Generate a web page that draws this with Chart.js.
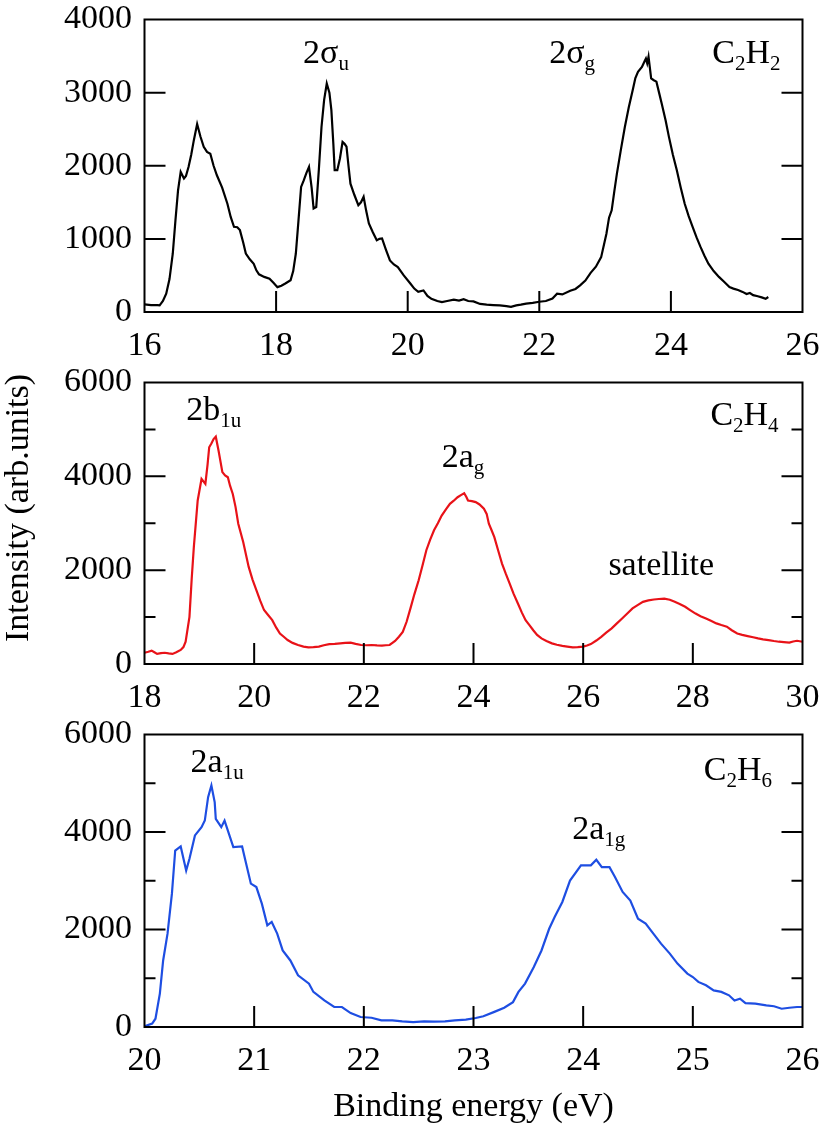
<!DOCTYPE html>
<html lang="en">
<head>
<meta charset="UTF-8">
<title>Photoelectron spectra C2H2 / C2H4 / C2H6</title>
<script src="https://cdn.jsdelivr.net/npm/chart.js"></script>
<style>
  html, body { margin: 0; padding: 0; background: #fff; overflow: hidden; }
  #wrap { position: relative; width: 819px; height: 1127px; overflow: hidden; }
  #wrap canvas { position: absolute; left: 0; }
</style>
</head>
<body>
<div id="wrap">
  <canvas id="c2h2" width="840" height="400" style="top:-20px"></canvas>
  <canvas id="c2h4" width="840" height="400" style="top:340px"></canvas>
  <canvas id="c2h6" width="840" height="437" style="top:690px"></canvas>
</div>
<script>
// C2H2 (top panel)
const c2h2Energy = [16.0,16.1,16.2,16.23,16.28,16.33,16.38,16.43,16.47,16.51,16.55,16.6,16.63,16.67,16.71,16.75,16.8,16.85,16.9,16.95,17.0,17.05,17.1,17.18,17.26,17.31,17.36,17.41,17.45,17.5,17.54,17.6,17.66,17.7,17.74,17.82,17.9,17.96,18.02,18.08,18.14,18.22,18.26,18.3,18.34,18.38,18.42,18.46,18.5,18.54,18.57,18.61,18.65,18.69,18.73,18.77,18.81,18.84,18.87,18.89,18.93,18.97,19.01,19.04,19.07,19.1,19.13,19.19,19.25,19.29,19.33,19.37,19.41,19.47,19.53,19.57,19.61,19.67,19.73,19.79,19.85,19.94,20.04,20.1,20.16,20.24,20.3,20.36,20.45,20.52,20.6,20.7,20.78,20.85,20.92,21.0,21.1,21.2,21.3,21.4,21.5,21.57,21.65,21.72,21.8,21.9,22.0,22.1,22.2,22.27,22.35,22.47,22.55,22.62,22.7,22.78,22.86,22.94,23.02,23.06,23.1,23.14,23.18,23.24,23.3,23.36,23.42,23.46,23.5,23.56,23.6,23.62,23.64,23.66,23.7,23.74,23.78,23.82,23.86,23.92,23.97,24.03,24.09,24.15,24.21,24.27,24.33,24.39,24.45,24.51,24.57,24.65,24.73,24.8,24.89,24.95,25.02,25.09,25.15,25.2,25.25,25.32,25.38,25.44,25.48];
const c2h2Intensity = [105,95,95,91,150,250,450,800,1250,1665,1915,1825,1860,1985,2150,2350,2570,2400,2260,2190,2165,2000,1870,1700,1480,1300,1165,1160,1120,950,800,720,660,570,515,480,455,400,340,360,390,435,560,800,1250,1710,1800,1900,1985,1700,1415,1435,1950,2530,2900,3125,3000,2760,2300,1940,1940,2100,2325,2300,2260,2000,1755,1600,1460,1500,1575,1380,1210,1090,980,1000,1005,850,705,650,615,500,390,320,275,295,220,180,150,135,150,170,155,175,150,145,110,100,95,90,80,70,90,100,115,125,140,150,185,250,240,290,315,365,430,535,620,750,1070,1290,1390,1650,1895,2220,2530,2800,3035,3200,3285,3350,3430,3465,3400,3490,3195,3170,3150,3000,2850,2620,2395,2150,1940,1700,1480,1310,1165,1020,890,770,660,560,480,420,340,320,300,275,245,260,230,215,200,180,205];

// C2H4 (middle panel)
const c2h4Energy = [18.0,18.07,18.13,18.18,18.23,18.3,18.37,18.44,18.51,18.58,18.66,18.71,18.75,18.82,18.86,18.9,18.97,19.04,19.11,19.15,19.18,19.22,19.26,19.3,19.35,19.42,19.47,19.52,19.56,19.61,19.66,19.71,19.8,19.9,19.97,20.04,20.11,20.18,20.25,20.33,20.4,20.47,20.54,20.61,20.7,20.8,20.9,20.99,21.08,21.18,21.27,21.37,21.47,21.57,21.66,21.76,21.85,21.95,22.05,22.14,22.24,22.33,22.4,22.47,22.57,22.64,22.71,22.78,22.85,22.92,23.0,23.07,23.14,23.21,23.28,23.35,23.42,23.5,23.57,23.64,23.71,23.77,23.83,23.87,23.9,23.97,24.04,24.11,24.19,24.24,24.28,24.33,24.38,24.45,24.52,24.59,24.66,24.73,24.81,24.88,24.95,25.02,25.09,25.16,25.24,25.33,25.43,25.52,25.62,25.71,25.81,25.9,26.0,26.07,26.14,26.24,26.33,26.42,26.52,26.61,26.71,26.8,26.9,27.0,27.09,27.19,27.29,27.38,27.48,27.58,27.67,27.76,27.86,27.95,28.05,28.14,28.24,28.33,28.43,28.52,28.62,28.71,28.81,28.9,29.0,29.1,29.19,29.28,29.38,29.48,29.57,29.66,29.76,29.83,29.9,30.0];
const c2h4Intensity = [240,260,285,250,215,230,240,225,215,250,300,360,475,1005,1800,2495,3485,3945,3840,4250,4620,4700,4795,4845,4550,4090,4020,3980,3800,3625,3350,2990,2600,2070,1800,1575,1350,1150,1050,935,780,650,580,510,450,405,370,355,360,370,400,425,430,440,450,455,430,405,400,405,395,390,400,405,490,580,685,900,1185,1480,1785,2100,2425,2650,2850,3000,3165,3300,3415,3480,3555,3600,3640,3560,3485,3470,3450,3400,3310,3200,2990,2850,2705,2420,2140,1920,1715,1500,1290,1100,935,830,720,620,545,490,440,410,385,370,355,360,370,395,425,500,580,670,760,860,970,1070,1185,1260,1325,1355,1375,1385,1395,1370,1325,1280,1220,1150,1075,1020,970,920,865,830,795,720,650,620,595,570,545,525,510,490,475,465,455,480,495,475];

// C2H6 (bottom panel)
const c2h6Energy = [20.0,20.07,20.1,20.14,20.17,20.21,20.25,20.28,20.33,20.38,20.41,20.46,20.52,20.55,20.58,20.61,20.64,20.65,20.7,20.73,20.81,20.89,20.92,20.97,21.02,21.07,21.12,21.16,21.21,21.26,21.33,21.4,21.5,21.54,21.64,21.73,21.8,21.88,21.97,22.07,22.16,22.26,22.35,22.45,22.55,22.64,22.74,22.83,22.93,23.02,23.09,23.19,23.28,23.36,23.41,23.47,23.55,23.62,23.69,23.74,23.81,23.88,23.98,24.07,24.12,24.17,24.24,24.29,24.36,24.43,24.5,24.57,24.64,24.71,24.79,24.86,24.95,25.0,25.05,25.12,25.19,25.26,25.33,25.38,25.43,25.48,25.57,25.67,25.74,25.81,25.88,25.95,26.0];
const c2h6Intensity = [15,70,170,685,1365,1915,2735,3620,3705,3210,3450,3930,4100,4235,4715,4955,4615,4270,4100,4235,3690,3705,3415,2940,2870,2530,2085,2155,1915,1570,1365,1060,890,720,545,410,410,285,205,190,135,135,115,100,115,110,115,135,150,185,220,310,395,510,720,890,1230,1570,2015,2255,2565,3005,3315,3315,3430,3280,3280,3075,2770,2595,2220,2120,1915,1710,1505,1300,1095,1025,925,855,750,720,650,545,580,490,480,445,425,375,395,410,410];

// labels inside the panels: [energy, intensity] anchor + text pieces (true = subscript)
const c2h2Notes = [
  { x: 18.41, y: 3400, parts: [['2σ', false], ['u', true]] },
  { x: 22.15, y: 3400, parts: [['2σ', false], ['g', true]] },
  { x: 24.63, y: 3400, parts: [['C', false], ['2', true], ['H', false], ['2', true]] }
];
const c2h4Notes = [
  { x: 18.76, y: 5200, parts: [['2b', false], ['1u', true]] },
  { x: 23.42, y: 4200, parts: [['2a', false], ['g', true]] },
  { x: 26.46, y: 1900, parts: [['satellite', false]] },
  { x: 28.32, y: 5090, parts: [['C', false], ['2', true], ['H', false], ['4', true]] }
];
const c2h6Notes = [
  { x: 20.42, y: 5230, parts: [['2a', false], ['1u', true]] },
  { x: 23.90, y: 3850, parts: [['2a', false], ['1g', true]] },
  { x: 25.10, y: 5060, parts: [['C', false], ['2', true], ['H', false], ['6', true]] }
];

const SERIF = "'Liberation Serif', 'Times New Roman', serif";
const FONT_MAIN = '34px ' + SERIF;
const FONT_SUB = '21px ' + SERIF;

// frame, inward ticks, tick labels (from the scales' own ticks) and text labels
function decor(opts) {
  return {
    id: 'decor',
    afterDatasetsDraw(chart) {
      const { ctx, chartArea: a, scales } = chart;
      const x = scales.x, y = scales.y;
      ctx.save();
      ctx.strokeStyle = '#000';
      ctx.lineWidth = 2;
      ctx.strokeRect(a.left, a.top, a.right - a.left, a.bottom - a.top);

      ctx.beginPath();
      const majors = y.ticks.map(t => t.value);
      majors.forEach(v => {
        if (v <= y.min || v >= y.max) return;
        const py = y.getPixelForValue(v);
        ctx.moveTo(a.left, py); ctx.lineTo(a.left + 21, py);
        ctx.moveTo(a.right, py); ctx.lineTo(a.right - 21, py);
      });
      if (opts.minorY) {
        for (let v = y.min + opts.minorY; v < y.max; v += opts.minorY) {
          if (majors.includes(v)) continue;
          const py = y.getPixelForValue(v);
          ctx.moveTo(a.left, py); ctx.lineTo(a.left + 11, py);
          ctx.moveTo(a.right, py); ctx.lineTo(a.right - 11, py);
        }
      }
      x.ticks.forEach(t => {
        if (t.value <= x.min || t.value >= x.max) return;
        const px = x.getPixelForValue(t.value);
        ctx.moveTo(px, a.bottom); ctx.lineTo(px, a.bottom - 21);
      });
      ctx.stroke();

      ctx.fillStyle = '#000';
      ctx.font = FONT_MAIN;
      ctx.textBaseline = 'middle';
      ctx.textAlign = 'right';
      y.ticks.forEach(t => ctx.fillText(String(t.value), a.left - 12.5, y.getPixelForValue(t.value)));
      ctx.textAlign = 'center';
      x.ticks.forEach(t => ctx.fillText(String(t.value), x.getPixelForValue(t.value), a.bottom + 34));
      if (opts.xTitle) ctx.fillText(opts.xTitle, (a.left + a.right) / 2, a.bottom + 80.5);

      ctx.textAlign = 'left';
      ctx.textBaseline = 'alphabetic';
      opts.notes.forEach(n => {
        let px = x.getPixelForValue(n.x);
        const py = y.getPixelForValue(n.y);
        n.parts.forEach(([s, sub]) => {
          ctx.font = sub ? FONT_SUB : FONT_MAIN;
          ctx.fillText(s, px, py + (sub ? 7 : 0));
          px += ctx.measureText(s).width;
        });
      });

      if (opts.yTitle) {
        ctx.translate(19.5, opts.yTitle.center);
        ctx.rotate(-Math.PI / 2);
        ctx.textAlign = 'center';
        ctx.textBaseline = 'middle';
        ctx.font = FONT_MAIN;
        ctx.fillText(opts.yTitle.text, 0, 0);
      }
      ctx.restore();
    }
  };
}

function makeChart(id, energy, intensity, color, p) {
  return new Chart(document.getElementById(id), {
    type: 'line',
    data: {
      datasets: [{
        data: energy.map((e, i) => ({ x: e, y: intensity[i] })),
        borderColor: color,
        borderWidth: 2.2,
        pointRadius: 0,
        tension: 0,
        fill: false
      }]
    },
    options: {
      responsive: false,
      animation: false,
      layout: { padding: { left: 0, right: 37.5, top: p.padTop, bottom: 0 } },
      plugins: { legend: { display: false }, tooltip: { enabled: false } },
      scales: {
        x: {
          type: 'linear',
          min: p.xMin, max: p.xMax,
          grid: { display: false, drawTicks: false },
          border: { display: false },
          ticks: { stepSize: p.xStep, autoSkip: false, display: false },
          afterFit: s => { s.height = p.xHeight; }
        },
        y: {
          min: 0, max: p.yMax,
          grid: { display: false, drawTicks: false },
          border: { display: false },
          ticks: { stepSize: p.yStep, display: false },
          afterFit: s => { s.width = 144.5; }
        }
      }
    },
    plugins: [decor(p)]
  });
}

makeChart('c2h2', c2h2Energy, c2h2Intensity, '#000000', {
  padTop: 39.5, xHeight: 68, xMin: 16, xMax: 26, xStep: 2,
  yMax: 4000, yStep: 1000, notes: c2h2Notes
});
makeChart('c2h4', c2h4Energy, c2h4Intensity, 'rgb(232,18,24)', {
  padTop: 42.5, xHeight: 76, xMin: 18, xMax: 30, xStep: 2,
  yMax: 6000, yStep: 2000, minorY: 1000, notes: c2h4Notes,
  yTitle: { text: 'Intensity (arb.units)', center: 168 }
});
makeChart('c2h6', c2h6Energy, c2h6Intensity, 'rgb(30,78,226)', {
  padTop: 44.5, xHeight: 100, xMin: 20, xMax: 26, xStep: 1,
  yMax: 6000, yStep: 2000, minorY: 1000, notes: c2h6Notes,
  xTitle: 'Binding energy (eV)'
});
</script>
</body>
</html>
